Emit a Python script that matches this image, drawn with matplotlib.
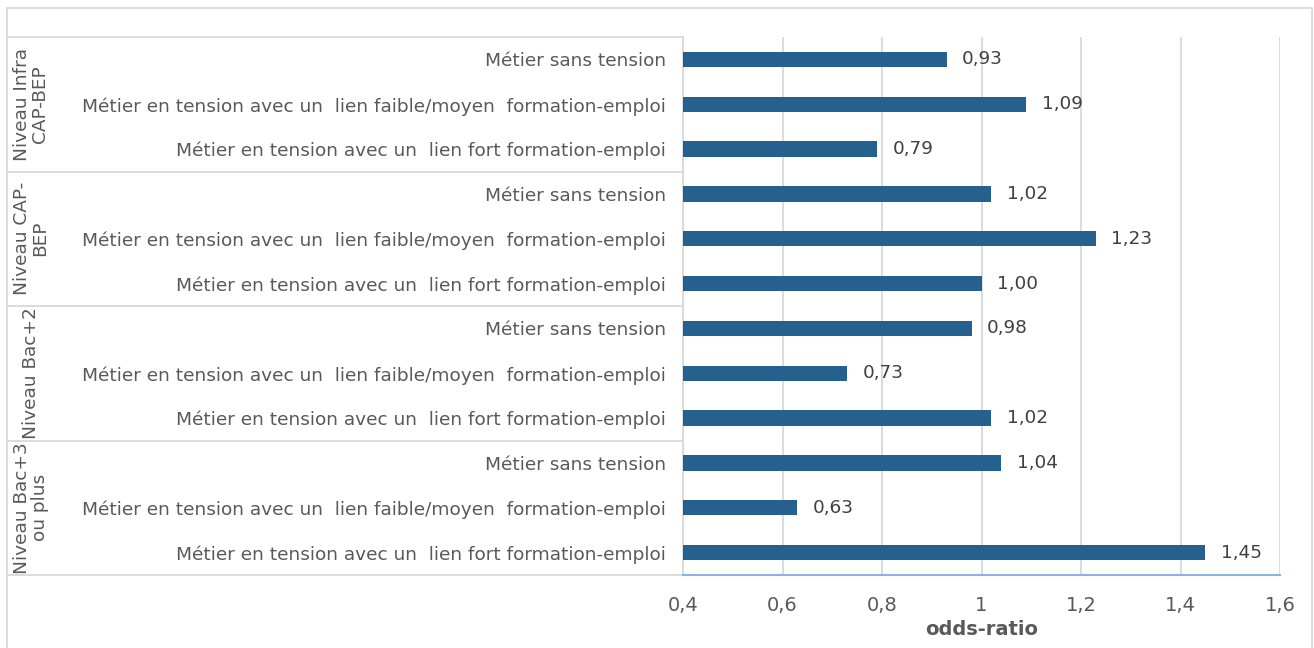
import matplotlib
matplotlib.use("Agg")
import matplotlib.pyplot as plt
import matplotlib.transforms as mtransforms
from matplotlib.patches import Rectangle

# ---- data ----
groups = ["Niveau Infra\nCAP-BEP", "Niveau CAP-\nBEP", "Niveau Bac+2", "Niveau Bac+3\nou plus"]
categories = [
    "Métier sans tension",
    "Métier en tension avec un  lien faible/moyen  formation-emploi",
    "Métier en tension avec un  lien fort formation-emploi",
]
values_infra = [0.93, 1.09, 0.79]
values_cap = [1.02, 1.23, 1.00]
values_bac2 = [0.98, 0.73, 1.02]
values_bac3 = [1.04, 0.63, 1.45]
xticks = [0.4, 0.6, 0.8, 1.0, 1.2, 1.4, 1.6]
xtick_labels = ["0,4", "0,6", "0,8", "1", "1,2", "1,4", "1,6"]
xlabel = "odds-ratio"

# ---- style ----
W, H = 1314, 648
plt.rcParams['font.family'] = ['DejaVu Sans']
bar_color = '#26608E'
text_color = '#595959'
grid_color = '#d9d9d9'

fig = plt.figure(figsize=(W / 100, H / 100), dpi=100)
ax = fig.add_axes([683 / W, 1 - 575 / H, (1280 - 683) / W, (575 - 37) / H])

all_values = values_infra + values_cap + values_bac2 + values_bac3
labels = categories * len(groups)
ypos = list(range(len(all_values)))

ax.barh(ypos, [v - xticks[0] for v in all_values], left=xticks[0], height=0.34,
        color=bar_color, zorder=3)

ax.set_xlim(xticks[0], xticks[-1])
ax.set_ylim(len(all_values) - 0.5, -0.5)
ax.set_xticks(xticks)
ax.set_xticklabels(xtick_labels)
ax.set_yticks(ypos)
ax.set_yticklabels(labels)
ax.tick_params(axis='y', length=0, pad=12, labelsize=13.3, labelcolor=text_color)
ax.tick_params(axis='x', length=0, pad=15, labelsize=14, labelcolor=text_color)
ax.set_xlabel(xlabel, fontsize=14, fontweight='bold', color=text_color, labelpad=4)

ax.xaxis.grid(True, color=grid_color, lw=1.3, zorder=0)
ax.set_axisbelow(True)
for s in ['top', 'right']:
    ax.spines[s].set_visible(False)
ax.spines['left'].set_color(grid_color)
ax.spines['left'].set_linewidth(1.3)
ax.spines['bottom'].set_color('#8AB4E0')
ax.spines['bottom'].set_linewidth(1.5)
ax.spines['bottom'].set_zorder(4)

for y, v in zip(ypos, all_values):
    ax.annotate(f"{v:.2f}".replace('.', ','), xy=(v, y), xytext=(11, 0),
                textcoords='offset points', va='center', ha='left',
                fontsize=13.3, color='#404040')

# group labels and separators
blend = mtransforms.blended_transform_factory(fig.transFigure, ax.transData)
n = len(categories)
for gi, g in enumerate(groups):
    yc = gi * n + (n - 1) / 2
    ax.text(31 / W, yc, g, transform=blend, rotation=90, ha='center', va='center',
            fontsize=13.3, color=text_color, linespacing=1.0, multialignment='center')
for gi in range(len(groups) + 1):
    yb = gi * n - 0.5
    ax.plot([7 / W, 683 / W], [yb, yb], transform=blend, color=grid_color,
            lw=1.3, clip_on=False, zorder=1)

# outer frame
fig.patches.append(Rectangle((7 / W, -0.05), (1311.5 - 7) / W, 1.05 - 8 / H,
                             transform=fig.transFigure, fill=False,
                             edgecolor=grid_color, lw=1.3))

fig.savefig("out.png", dpi=100)
